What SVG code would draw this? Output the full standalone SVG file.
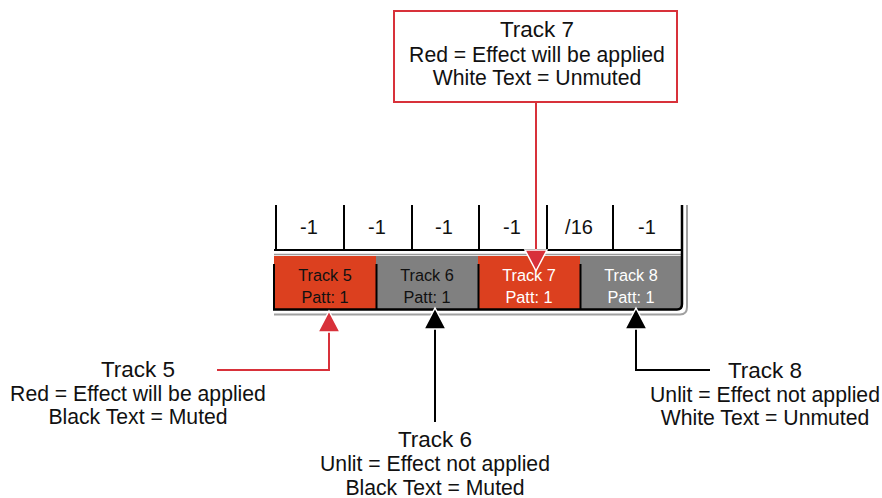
<svg xmlns="http://www.w3.org/2000/svg" width="882" height="498" viewBox="0 0 882 498">
<defs>
<style>
text{font-family:"Liberation Sans",Arial,sans-serif;text-anchor:middle;fill:#111}
.t{font-size:22.5px}
.l{font-size:21.2px}
.v{font-size:20px}
.c{font-size:16.3px}
.w{fill:#fff}
.red{stroke:#d8313a;stroke-width:2;fill:none}
.blk{stroke:#000;stroke-width:2;fill:none}
.div{stroke:#000;stroke-width:2}
</style>
<marker id="ar" markerUnits="userSpaceOnUse" markerWidth="28" markerHeight="28" viewBox="-3 -14 28 28" refX="0" refY="0" orient="auto" overflow="visible">
<path d="M0,-11 L21,0 L0,11 Z" fill="#d8313a" stroke="#fff" stroke-width="1.5"/>
</marker>
<marker id="ab" markerUnits="userSpaceOnUse" markerWidth="28" markerHeight="28" viewBox="-3 -14 28 28" refX="0" refY="0" orient="auto" overflow="visible">
<path d="M0,-11 L21,0 L0,11 Z" fill="#000" stroke="#fff" stroke-width="1.5"/>
</marker>
</defs>
<rect width="882" height="498" fill="#fff"/>

<g id="panel">
<rect x="274" y="205" width="408" height="104" fill="#fff"/>
<g class="div">
<line x1="276" y1="205" x2="276" y2="250"/>
<line x1="344" y1="205" x2="344" y2="250"/>
<line x1="412" y1="205" x2="412" y2="250"/>
<line x1="479" y1="205" x2="479" y2="250"/>
<line x1="547" y1="205" x2="547" y2="250"/>
<line x1="613" y1="205" x2="613" y2="250"/>
</g>
<text class="v" x="309" y="234">-1</text>
<text class="v" x="377" y="234">-1</text>
<text class="v" x="444" y="234">-1</text>
<text class="v" x="512" y="234">-1</text>
<text class="v" x="579" y="234">/16</text>
<text class="v" x="647" y="234">-1</text>
<line x1="274" y1="250" x2="682" y2="250" stroke="#000" stroke-width="2"/>
<line x1="274" y1="254.5" x2="682" y2="254.5" stroke="#9a9a9a" stroke-width="1.5"/>
<g id="cell5"><rect x="274" y="256" width="102" height="53" fill="#dc401f"/><text class="c" x="325" y="281">Track 5</text><text class="c" x="325" y="303">Patt: 1</text></g>
<g id="cell6"><rect x="376" y="256" width="102" height="53" fill="#808080"/><text class="c" x="427" y="281">Track 6</text><text class="c" x="427" y="303">Patt: 1</text></g>
<g id="cell7"><rect x="478" y="256" width="102" height="53" fill="#dc401f"/><text class="c w" x="529" y="281">Track 7</text><text class="c w" x="529" y="303">Patt: 1</text></g>
<g id="cell8"><rect x="580" y="256" width="102" height="53" fill="#808080"/><text class="c w" x="631" y="281">Track 8</text><text class="c w" x="631" y="303">Patt: 1</text></g>
<g class="div">
<line x1="274" y1="264" x2="274" y2="309"/>
<line x1="376.5" y1="264" x2="376.5" y2="309"/>
<line x1="478.5" y1="264" x2="478.5" y2="309"/>
<line x1="580.5" y1="264" x2="580.5" y2="309"/>
</g>
<path d="M682,205 V304 Q682,309.5 677,309.5 H273" stroke="#000" stroke-width="2.5" fill="none"/>
<path d="M274,314.5 H680 Q687,314.5 687,307 V205" stroke="#a0a0a0" stroke-width="2" fill="none"/>
</g>

<g id="label7">
<rect x="394" y="11" width="283" height="91" fill="#fff" stroke="#d8313a" stroke-width="2"/>
<text class="t" x="537" y="37">Track 7</text>
<text class="l" x="537" y="62">Red = Effect will be applied</text>
<text class="l" x="537" y="85">White Text = Unmuted</text>
</g>

<g id="label5">
<text class="t" x="138" y="377">Track 5</text>
<text class="l" x="138" y="401">Red = Effect will be applied</text>
<text class="l" x="138" y="424">Black Text = Muted</text>
</g>

<g id="label6">
<text class="t" x="435" y="447">Track 6</text>
<text class="l" x="435" y="471">Unlit = Effect not applied</text>
<text class="l" x="435" y="495">Black Text = Muted</text>
</g>

<g id="label8">
<text class="t" x="765" y="378">Track 8</text>
<text class="l" x="765" y="402">Unlit = Effect not applied</text>
<text class="l" x="765" y="425">White Text = Unmuted</text>
</g>

<g id="connectors">
<path class="red" d="M536,102 V250" marker-end="url(#ar)"/>
<path class="red" d="M217,370 H329 V332" marker-end="url(#ar)"/>
<path class="blk" d="M435,422 V329" marker-end="url(#ab)"/>
<path class="blk" d="M710,370 H636 V329" marker-end="url(#ab)"/>
</g>
</svg>
